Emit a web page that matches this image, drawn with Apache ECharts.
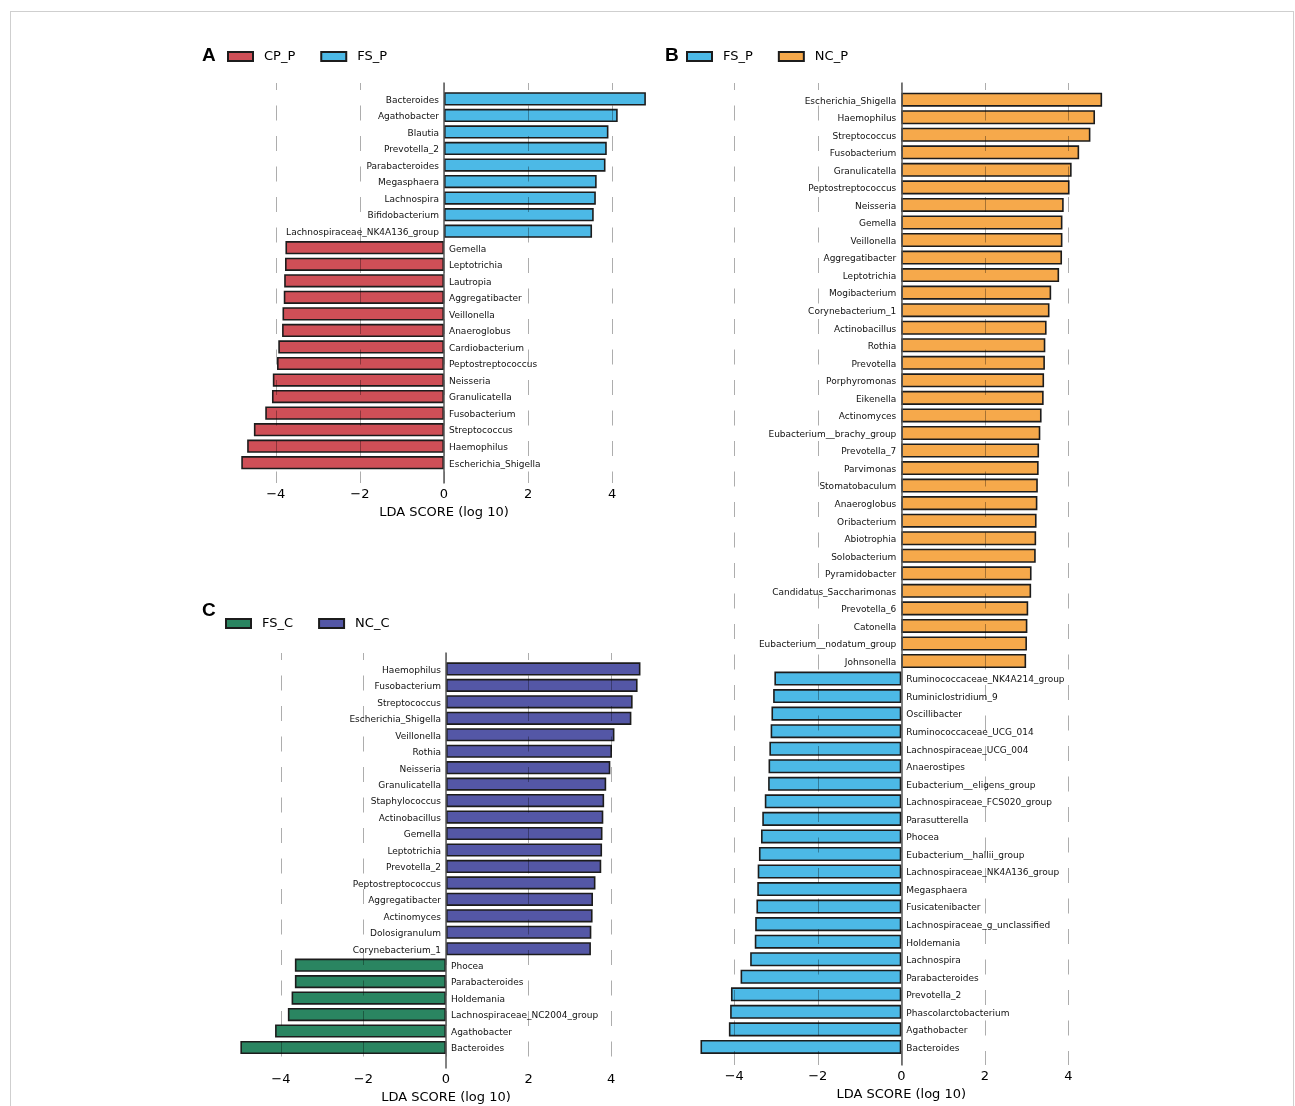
<!DOCTYPE html>
<html>
<head>
<meta charset="utf-8">
<title>LEfSe LDA scores</title>
<script src="https://cdn.jsdelivr.net/npm/echarts@6/dist/echarts.min.js"></script>
<style>
  html, body { margin: 0; padding: 0; background: #fff; }
  #chart { position: absolute; left: 0; top: 0; width: 1295px; height: 1106px; }
  #frame {
    position: absolute; left: 10px; top: 11px; width: 1282px; height: 1100px;
    border-top: 1.5px solid #cfcfcf; border-left: 1.5px solid #cfcfcf; border-right: 1.5px solid #cfcfcf;
    pointer-events: none;
  }
</style>
</head>
<body>
<div id="chart"></div>
<div id="frame"></div>
<script>
// ---- Panel A: CP_P vs FS_P ----
const aFsNames = ['Bacteroides', 'Agathobacter', 'Blautia', 'Prevotella_2', 'Parabacteroides',
  'Megasphaera', 'Lachnospira', 'Bifidobacterium', 'Lachnospiraceae_NK4A136_group'];
const aFsScores = [4.80, 4.13, 3.91, 3.87, 3.84, 3.63, 3.61, 3.56, 3.52];
const aCpNames = ['Gemella', 'Leptotrichia', 'Lautropia', 'Aggregatibacter', 'Veillonella',
  'Anaeroglobus', 'Cardiobacterium', 'Peptostreptococcus', 'Neisseria', 'Granulicatella',
  'Fusobacterium', 'Streptococcus', 'Haemophilus', 'Escherichia_Shigella'];
const aCpScores = [-3.77, -3.78, -3.80, -3.81, -3.84, -3.85, -3.94, -3.97, -4.07, -4.09,
  -4.25, -4.52, -4.68, -4.82];

// ---- Panel B: FS_P vs NC_P ----
const bNcNames = ['Escherichia_Shigella', 'Haemophilus', 'Streptococcus', 'Fusobacterium',
  'Granulicatella', 'Peptostreptococcus', 'Neisseria', 'Gemella', 'Veillonella',
  'Aggregatibacter', 'Leptotrichia', 'Mogibacterium', 'Corynebacterium_1', 'Actinobacillus',
  'Rothia', 'Prevotella', 'Porphyromonas', 'Eikenella', 'Actinomyces',
  'Eubacterium__brachy_group', 'Prevotella_7', 'Parvimonas', 'Stomatobaculum', 'Anaeroglobus',
  'Oribacterium', 'Abiotrophia', 'Solobacterium', 'Pyramidobacter', 'Candidatus_Saccharimonas',
  'Prevotella_6', 'Catonella', 'Eubacterium__nodatum_group', 'Johnsonella'];
const bNcScores = [4.81, 4.64, 4.53, 4.26, 4.08, 4.03, 3.89, 3.86, 3.86, 3.85, 3.78, 3.59,
  3.55, 3.48, 3.45, 3.44, 3.42, 3.41, 3.36, 3.33, 3.30, 3.29, 3.27, 3.26, 3.24, 3.23, 3.22,
  3.12, 3.11, 3.04, 3.02, 3.01, 2.99];
const bFsNames = ['Ruminococcaceae_NK4A214_group', 'Ruminiclostridium_9', 'Oscillibacter',
  'Ruminococcaceae_UCG_014', 'Lachnospiraceae_UCG_004', 'Anaerostipes',
  'Eubacterium__eligens_group', 'Lachnospiraceae_FCS020_group', 'Parasutterella', 'Phocea',
  'Eubacterium__hallii_group', 'Lachnospiraceae_NK4A136_group', 'Megasphaera',
  'Fusicatenibacter', 'Lachnospiraceae_g_unclassified', 'Holdemania', 'Lachnospira',
  'Parabacteroides', 'Prevotella_2', 'Phascolarctobacterium', 'Agathobacter', 'Bacteroides'];
const bFsScores = [-3.04, -3.07, -3.11, -3.13, -3.16, -3.18, -3.19, -3.27, -3.33, -3.36,
  -3.41, -3.44, -3.45, -3.47, -3.50, -3.51, -3.62, -3.85, -4.08, -4.10, -4.13, -4.81];

// ---- Panel C: FS_C vs NC_C ----
const cNcNames = ['Haemophilus', 'Fusobacterium', 'Streptococcus', 'Escherichia_Shigella',
  'Veillonella', 'Rothia', 'Neisseria', 'Granulicatella', 'Staphylococcus', 'Actinobacillus',
  'Gemella', 'Leptotrichia', 'Prevotella_2', 'Peptostreptococcus', 'Aggregatibacter',
  'Actinomyces', 'Dolosigranulum', 'Corynebacterium_1'];
const cNcScores = [4.71, 4.64, 4.52, 4.49, 4.08, 4.02, 3.98, 3.88, 3.83, 3.81, 3.79, 3.78,
  3.76, 3.62, 3.56, 3.55, 3.52, 3.51];
const cFsNames = ['Phocea', 'Parabacteroides', 'Holdemania', 'Lachnospiraceae_NC2004_group',
  'Agathobacter', 'Bacteroides'];
const cFsScores = [-3.66, -3.66, -3.74, -3.83, -4.14, -4.98];

// axis ticks shared by the three panels
const xTicks = [-4, -2, 0, 2, 4];
const axisTitle = 'LDA SCORE (log 10)';

const COLORS = {
  CP_P: '#cf4f57', FS_P: '#4cb9e6', NC_P: '#f6a94b', FS_C: '#2a8561', NC_C: '#5457a6'
};
const FONT = 'DejaVu Sans';
const X_MIN = -6, X_MAX = 6;

// one panel = positive group on top, negative group below
function panel(posNames, posScores, negNames, negScores) {
  const categories = posNames.concat(negNames);
  const pos = categories.map((_, i) => (i < posNames.length ? posScores[i] : '-'));
  const neg = categories.map((_, i) => (i >= posNames.length ? negScores[i - posNames.length] : '-'));
  return { categories, pos, neg };
}

const A = panel(aFsNames, aFsScores, aCpNames, aCpScores);
const B = panel(bNcNames, bNcScores, bFsNames, bFsScores);
const C = panel(cNcNames, cNcScores, cFsNames, cFsScores);

// layout of each panel: bar area and the taller frame carrying grid lines
const layouts = [
  { zeroX: 444.0, unit: 42.06, barTop: 90.6, barH: 380.4, frameTop: 83, frameBottom: 483 },
  { zeroX: 901.3, unit: 41.75, barTop: 90.9, barH: 964.8, frameTop: 83, frameBottom: 1068 },
  { zeroX: 446.0, unit: 41.29, barTop: 660.7, barH: 395.0, frameTop: 653, frameBottom: 1068 }
];

const grids = [], xAxes = [], yAxes = [], series = [];

function fmtTick(v) {
  if (xTicks.indexOf(v) < 0) return '';
  return v < 0 ? '\u2212' + Math.abs(v) : String(v);
}

function barSeries(name, data, gridIdx, side) {
  return {
    type: 'bar', name: name, data: data,
    xAxisIndex: gridIdx, yAxisIndex: gridIdx,
    barWidth: '80%', barGap: '-100%',
    itemStyle: { color: COLORS[name], borderColor: '#1c1c1c', borderWidth: 1.6 },
    label: {
      show: true, formatter: '{b}', position: side, distance: 5, offset: [0, 1.5],
      fontFamily: FONT, fontSize: 9, color: '#111'
    },
    emphasis: { disabled: true },
    z: 2
  };
}

const panels = [
  { d: A, posName: 'FS_P', negName: 'CP_P' },
  { d: B, posName: 'NC_P', negName: 'FS_P' },
  { d: C, posName: 'NC_C', negName: 'FS_C' }
];

panels.forEach((p, k) => {
  const L = layouts[k];
  const left = L.zeroX + X_MIN * L.unit;
  const width = (X_MAX - X_MIN) * L.unit;
  const gBar = grids.length;
  grids.push({ left: left, width: width, top: L.barTop, height: L.barH });
  xAxes.push({ type: 'value', gridIndex: gBar, min: X_MIN, max: X_MAX, show: false });
  yAxes.push({ type: 'category', gridIndex: gBar, data: p.d.categories, inverse: true, show: false });
  series.push(barSeries(p.posName, p.d.pos, gBar, 'left'));
  series.push(barSeries(p.negName, p.d.neg, gBar, 'right'));

  const gFrame = grids.length;
  grids.push({ left: left, width: width, top: L.frameTop, height: L.frameBottom - L.frameTop });
  xAxes.push({
    type: 'value', gridIndex: gFrame, min: X_MIN, max: X_MAX, interval: 2, position: 'bottom',
    z: 5,
    axisLine: { show: false },
    axisTick: { show: false },
    axisLabel: { formatter: fmtTick, margin: 5, fontFamily: FONT, fontSize: 13, color: '#000' },
    splitLine: {
      show: true, showMinLine: false, showMaxLine: false,
      lineStyle: { color: 'rgba(0,0,0,0.32)', width: 1, type: [15, 15.5], dashOffset: 8 }
    },
    name: axisTitle, nameLocation: 'middle', nameGap: 23,
    nameTextStyle: { fontFamily: FONT, fontSize: 13, color: '#000' }
  });
  yAxes.push({
    type: 'value', gridIndex: gFrame, min: 0, max: 1, z: 6,
    axisLine: { show: true, onZero: true, lineStyle: { color: '#5a5a5a', width: 1.5 } },
    axisTick: { show: false }, axisLabel: { show: false }, splitLine: { show: false }
  });
});

const letterStyle = { fontFamily: 'Liberation Sans', fontWeight: 'bold', fontSize: 19, color: '#000' };
const legendText = { fontFamily: FONT, fontSize: 13, color: '#000', padding: [0, 0, 0, 6] };

const option = {
  animation: false,
  backgroundColor: '#fff',
  title: [
    { text: 'A', left: 202, top: 46, padding: 0, textStyle: letterStyle },
    { text: 'B', left: 665, top: 46, padding: 0, textStyle: letterStyle },
    { text: 'C', left: 202, top: 601, padding: 0, textStyle: letterStyle }
  ],
  legend: [
    { data: ['CP_P', 'FS_P'], left: 227, top: 50, padding: 0, icon: 'rect',
      itemWidth: 25, itemHeight: 9, itemGap: 25, textStyle: legendText, selectedMode: false },
    { data: ['FS_P', 'NC_P'], left: 686, top: 50, padding: 0, icon: 'rect',
      itemWidth: 25, itemHeight: 9, itemGap: 25, textStyle: legendText, selectedMode: false },
    { data: ['FS_C', 'NC_C'], left: 225, top: 617, padding: 0, icon: 'rect',
      itemWidth: 25, itemHeight: 9, itemGap: 25, textStyle: legendText, selectedMode: false }
  ],
  grid: grids,
  xAxis: xAxes,
  yAxis: yAxes,
  series: series
};

const chart = echarts.init(document.getElementById('chart'), null, { renderer: 'canvas' });
chart.setOption(option);
</script>
</body>
</html>
